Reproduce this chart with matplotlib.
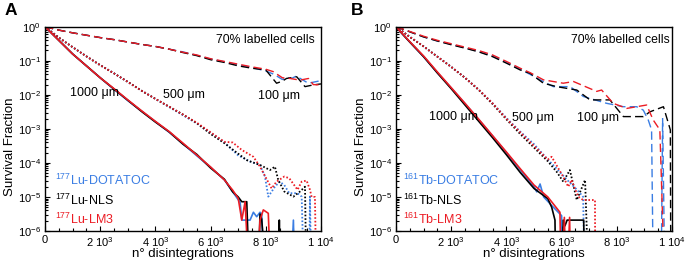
import numpy as np
import matplotlib
matplotlib.use("Agg")
import matplotlib.pyplot as plt
from matplotlib.ticker import FixedLocator, MultipleLocator, NullFormatter

plt.rcParams['font.family'] = ['Liberation Sans', 'DejaVu Sans']
plt.rcParams['mathtext.fontset'] = 'custom'
plt.rcParams['mathtext.rm'] = 'Liberation Sans'
plt.rcParams['mathtext.it'] = 'Liberation Sans:italic'
plt.rcParams['mathtext.bf'] = 'Liberation Sans:bold'

BLUE = '#3a7de3'
RED = '#ec1c24'
BLACK = '#000000'

# values are log10(survival fraction); -8 = no survivors (below axis)
# ---------------- panel A : 177Lu ----------------
a_1000_x = [0, 250, 500, 1000, 1500, 2000, 2500, 3000, 3500, 4000, 4500, 5000, 5500, 6000, 6500]
a_1000_blue_y = [0, -0.2, -0.4, -0.8, -1.15, -1.5, -1.84, -2.17, -2.48, -2.79, -3.1, -3.44, -3.79, -4.13, -4.5]
a_1000_black_y = [0, -0.2, -0.4, -0.8, -1.15, -1.5, -1.83, -2.16, -2.49, -2.8, -3.09, -3.45, -3.75, -4.15, -4.48]
a_1000_red_y = [0, -0.2, -0.4, -0.8, -1.15, -1.5, -1.82, -2.15, -2.47, -2.78, -3.08, -3.42, -3.77, -4.12, -4.5]
a_1000_blue_tx = [6800, 7070, 7130, 7430, 7550, 7670, 7790, 7850, 7970, 8880, 9000, 9060]
a_1000_blue_ty = [-4.85, -5.16, -5.68, -5.68, -5.45, -5.58, -5.45, -5.5, -8, -8, -5.68, -8]
a_1000_black_tx = [6800, 7000, 7130, 7310, 7430, 7700, 7790, 7850, 8090, 8480, 8490, 8500]
a_1000_black_ty = [-4.85, -5.0, -5.14, -5.14, -8, -8, -5.5, -5.65, -8, -8, -5.68, -8]
a_1000_red_tx = [6800, 7000, 7130, 7250, 7430, 7650, 7790, 7910, 8090, 8210]
a_1000_red_ty = [-4.8, -5.04, -5.68, -5.14, -8, -8, -5.68, -5.38, -5.48, -8]

a_500_x = [0, 250, 500, 1000, 1500, 2000, 2500, 3000, 3500, 4000, 4500, 5000, 5500, 6000, 6500]
a_500_blue_y = [0, -0.16, -0.32, -0.6, -0.87, -1.13, -1.37, -1.62, -1.88, -2.12, -2.36, -2.6, -2.84, -3.12, -3.4]
a_500_black_y = [0, -0.16, -0.32, -0.6, -0.87, -1.13, -1.37, -1.62, -1.88, -2.12, -2.35, -2.58, -2.83, -3.15, -3.42]
a_500_red_y = [0, -0.16, -0.32, -0.6, -0.87, -1.13, -1.37, -1.62, -1.88, -2.12, -2.35, -2.58, -2.82, -3.1, -3.38]
a_500_blue_tx = [7000, 7430, 7790, 7970, 8090, 8330, 8500, 8670, 8850, 9150, 9300, 9400, 9560, 9600, 9660]
a_500_blue_ty = [-3.78, -3.96, -4.06, -4.4, -4.99, -4.7, -4.55, -4.65, -4.89, -4.89, -4.99, -8, -8, -4.99, -8]
a_500_black_tx = [6820, 7310, 7790, 8150, 8330, 8450, 8670, 9000, 9240, 9420, 9480]
a_500_black_ty = [-3.62, -3.92, -4.06, -4.21, -4.11, -4.5, -4.84, -4.99, -4.84, -4.7, -8]
a_500_red_tx = [6800, 7130, 7550, 7790, 8210, 8390, 8670, 8850, 9150, 9300, 9480, 9600, 9660, 9780, 9840]
a_500_red_ty = [-3.4, -3.62, -3.82, -4.11, -4.75, -4.55, -4.4, -4.45, -4.79, -4.55, -4.52, -4.79, -5.0, -5.0, -8]

a_100_x = [0, 500, 1000, 1500, 2000, 2500, 3000, 3500, 4000, 4500, 5000, 5500, 6000, 6500, 7000, 7500, 8000]
a_100_blue_y = [0, -0.1, -0.18, -0.25, -0.32, -0.38, -0.45, -0.52, -0.58, -0.66, -0.74, -0.84, -0.95, -1.03, -1.12, -1.2, -1.3]
a_100_black_y = [0, -0.1, -0.18, -0.25, -0.32, -0.38, -0.45, -0.52, -0.58, -0.66, -0.76, -0.85, -0.97, -1.05, -1.15, -1.22, -1.27]
a_100_red_y = [0, -0.1, -0.18, -0.25, -0.32, -0.38, -0.45, -0.52, -0.58, -0.66, -0.75, -0.83, -0.94, -1.02, -1.1, -1.18, -1.25]
a_100_blue_tx = [8300, 8600, 8800, 8940, 9100, 9540, 9900, 10000]
a_100_blue_ty = [-1.4, -1.55, -1.5, -1.52, -1.45, -1.66, -1.6, -1.58]
a_100_black_tx = [8390, 8600, 8750, 9120, 9420, 9720, 10000]
a_100_black_ty = [-1.66, -1.6, -1.52, -1.47, -1.76, -1.71, -1.68]
a_100_red_tx = [8270, 8600, 8880, 9240, 9360, 9550, 9720, 10000]
a_100_red_ty = [-1.32, -1.5, -1.52, -1.57, -1.55, -1.52, -1.7, -1.71]

# ---------------- panel B : 161Tb ----------------
b_1000_x = [0, 250, 500, 1000, 1500, 2000, 2500, 3000, 3500, 4000, 4500, 5000]
b_1000_blue_y = [0, -0.23, -0.45, -0.88, -1.35, -1.8, -2.26, -2.73, -3.21, -3.7, -4.2, -4.7]
b_1000_black_y = [0, -0.23, -0.45, -0.88, -1.36, -1.82, -2.3, -2.78, -3.26, -3.76, -4.28, -4.75]
b_1000_red_y = [0, -0.22, -0.44, -0.86, -1.33, -1.79, -2.25, -2.72, -3.2, -3.68, -4.17, -4.65]
b_1000_blue_tx = [5100, 5220, 5350, 5700, 6000, 6050]
b_1000_blue_ty = [-4.85, -4.62, -5.0, -5.3, -5.55, -8]
b_1000_black_tx = [5500, 5640, 5760, 5800, 6000, 6060, 6120, 6200, 6800, 6850]
b_1000_black_ty = [-5.05, -5.3, -5.68, -8, -8, -5.68, -5.85, -5.68, -5.68, -8]
b_1000_red_tx = [5500, 5940, 6000, 6100, 6180, 6290, 6340]
b_1000_red_ty = [-5.0, -5.45, -8, -5.6, -8, -5.6, -8]

b_500_x = [0, 250, 500, 1000, 1500, 2000, 2500, 3000, 3500, 4000, 4500, 5000, 5500]
b_500_blue_y = [0, -0.15, -0.3, -0.58, -0.88, -1.18, -1.5, -1.85, -2.25, -2.68, -3.08, -3.45, -3.9]
b_500_black_y = [0, -0.15, -0.3, -0.58, -0.88, -1.18, -1.5, -1.86, -2.27, -2.72, -3.15, -3.55, -3.95]
b_500_red_y = [0, -0.15, -0.3, -0.58, -0.88, -1.18, -1.5, -1.85, -2.25, -2.7, -3.1, -3.5, -3.9]
b_500_blue_tx = [5800, 6200, 6450, 6670, 6780, 6850]
b_500_blue_ty = [-4.15, -4.5, -4.7, -4.89, -5.0, -8]
b_500_black_tx = [5820, 6060, 6300, 6550, 6850, 7000]
b_500_black_ty = [-4.26, -4.55, -4.21, -5.09, -4.5, -8]
b_500_red_tx = [5640, 6060, 6240, 6360, 6600, 6780, 7210, 7220]
b_500_red_ty = [-3.82, -4.41, -4.7, -4.5, -4.99, -5.09, -5.09, -8]

b_100_x = [0, 500, 1000, 1500, 2000, 2500, 3000, 3500, 4000, 4500, 4860]
b_100_blue_y = [0, -0.15, -0.3, -0.42, -0.52, -0.62, -0.73, -0.86, -1.05, -1.25, -1.4]
b_100_black_y = [0, -0.15, -0.3, -0.42, -0.53, -0.63, -0.74, -0.88, -1.07, -1.27, -1.37]
b_100_red_y = [0, -0.14, -0.28, -0.4, -0.5, -0.6, -0.7, -0.83, -1.02, -1.22, -1.35]
b_100_blue_tx = [5100, 5700, 6310, 6790, 7630, 8240, 8720, 8960, 9140, 9260, 9330, 9600, 9660, 9750]
b_100_blue_ty = [-1.51, -1.76, -1.76, -2.05, -2.25, -2.35, -2.35, -2.45, -2.74, -3.03, -8, -8, -2.7, -8]
b_100_black_tx = [5340, 5820, 6550, 7030, 7750, 8240, 8960, 9200, 9690, 9940, 9960]
b_100_black_ty = [-1.66, -1.76, -1.86, -2.15, -2.15, -2.64, -2.64, -2.5, -2.35, -3.03, -8]
b_100_red_tx = [5340, 6060, 6430, 7270, 7450, 7870, 8360, 9080, 9320, 9560, 9750]
b_100_red_ty = [-1.56, -1.66, -1.61, -1.9, -1.86, -2.25, -2.4, -2.3, -2.74, -3.03, -8]

x_ticks = [0, 2000, 4000, 6000, 8000, 10000]
x_ticklabels = ['0', r'2 10$^{3}$', r'4 10$^{3}$', r'6 10$^{3}$', r'8 10$^{3}$', r'1 10$^{4}$']

A_labels = [r'$^{177}$Lu-DOTATOC', r'$^{177}$Lu-NLS', r'$^{177}$Lu-LM3']
B_labels = [r'$^{161}$Tb-DOTATOC', r'$^{161}$Tb-NLS', r'$^{161}$Tb-LM3']

solid = dict(ls='-', lw=1.2)
dotted = dict(ls=(0, (0.9, 1.1)), lw=1.3)
dashed = dict(ls=(0, (6, 3)), lw=1.0)


def curve(ax, x, y, tx, ty, color, style):
    xs = np.array(list(x) + list(tx), dtype=float)
    ys = 10.0 ** np.array(list(y) + list(ty), dtype=float)
    ax.plot(xs, ys, color=color, **style)


def panel(ax, d, labels, lab_x, txt_pos):
    for dist, style in (('100', dashed), ('500', dotted), ('1000', solid)):
        x = d[dist + '_x']
        for col, c in (('blue', BLUE), ('black', BLACK), ('red', RED)):
            curve(ax, x, d[dist + '_' + col + '_y'], d[dist + '_' + col + '_tx'],
                  d[dist + '_' + col + '_ty'], c, style)

    ax.set_yscale('log')
    ax.set_ylim(1e-6, 1)
    ax.set_xlim(0, 10000)
    ax.xaxis.set_major_locator(FixedLocator(x_ticks))
    ax.set_xticklabels(x_ticklabels)
    ax.xaxis.set_minor_locator(MultipleLocator(500))
    ax.yaxis.set_minor_formatter(NullFormatter())
    ax.tick_params(which='both', direction='in', labelsize=8, width=0.8)
    ax.tick_params(which='major', length=3.5, pad=3)
    ax.tick_params(which='minor', length=2.5)
    for s in ax.spines.values():
        s.set_linewidth(1.0)

    ax.set_xlabel('n° disintegrations', fontsize=9.5, labelpad=-0.5)
    ax.set_ylabel('Survival Fraction', fontsize=9.5, labelpad=1, y=0.41)

    ax.text(txt_pos[0], 0.935, '70% labelled cells', transform=ax.transAxes,
            ha='right', va='center', fontsize=8.8)
    for t, (xx, yy) in zip(('1000 μm', '500 μm', '100 μm'), txt_pos[1:]):
        ax.text(xx, 10.0 ** yy, t, ha='center', va='center', fontsize=9)

    for lab, c, yy in zip(labels, (BLUE, BLACK, RED), (0.25, 0.152, 0.058)):
        ax.text(lab_x, yy, lab, color=c, transform=ax.transAxes,
                ha='left', va='center', fontsize=9)


def collect(prefix):
    g = globals()
    return {k[len(prefix):]: v for k, v in g.items() if k.startswith(prefix)}


fig = plt.figure(figsize=(6.85, 2.68), dpi=100)
axA = fig.add_axes([45 / 685, 37 / 268, 276 / 685, 204.3 / 268])
axB = fig.add_axes([396 / 685, 37 / 268, 276 / 685, 204.3 / 268])

panel(axA, collect('a_'), A_labels, 0.036,
      [0.978, (1810, -1.95), (5040, -2.01), (8480, -2.04)])
panel(axB, collect('b_'), B_labels, 0.027,
      [0.993, (2070, -2.65), (4960, -2.68), (7320, -2.68)])

fig.text(5 / 685, 1 - 3 / 268, 'A', fontsize=12.5, fontweight='bold', ha='left', va='top')
fig.text(351 / 685, 1 - 3 / 268, 'B', fontsize=12.5, fontweight='bold', ha='left', va='top')

fig.savefig('out.png', dpi=100)
